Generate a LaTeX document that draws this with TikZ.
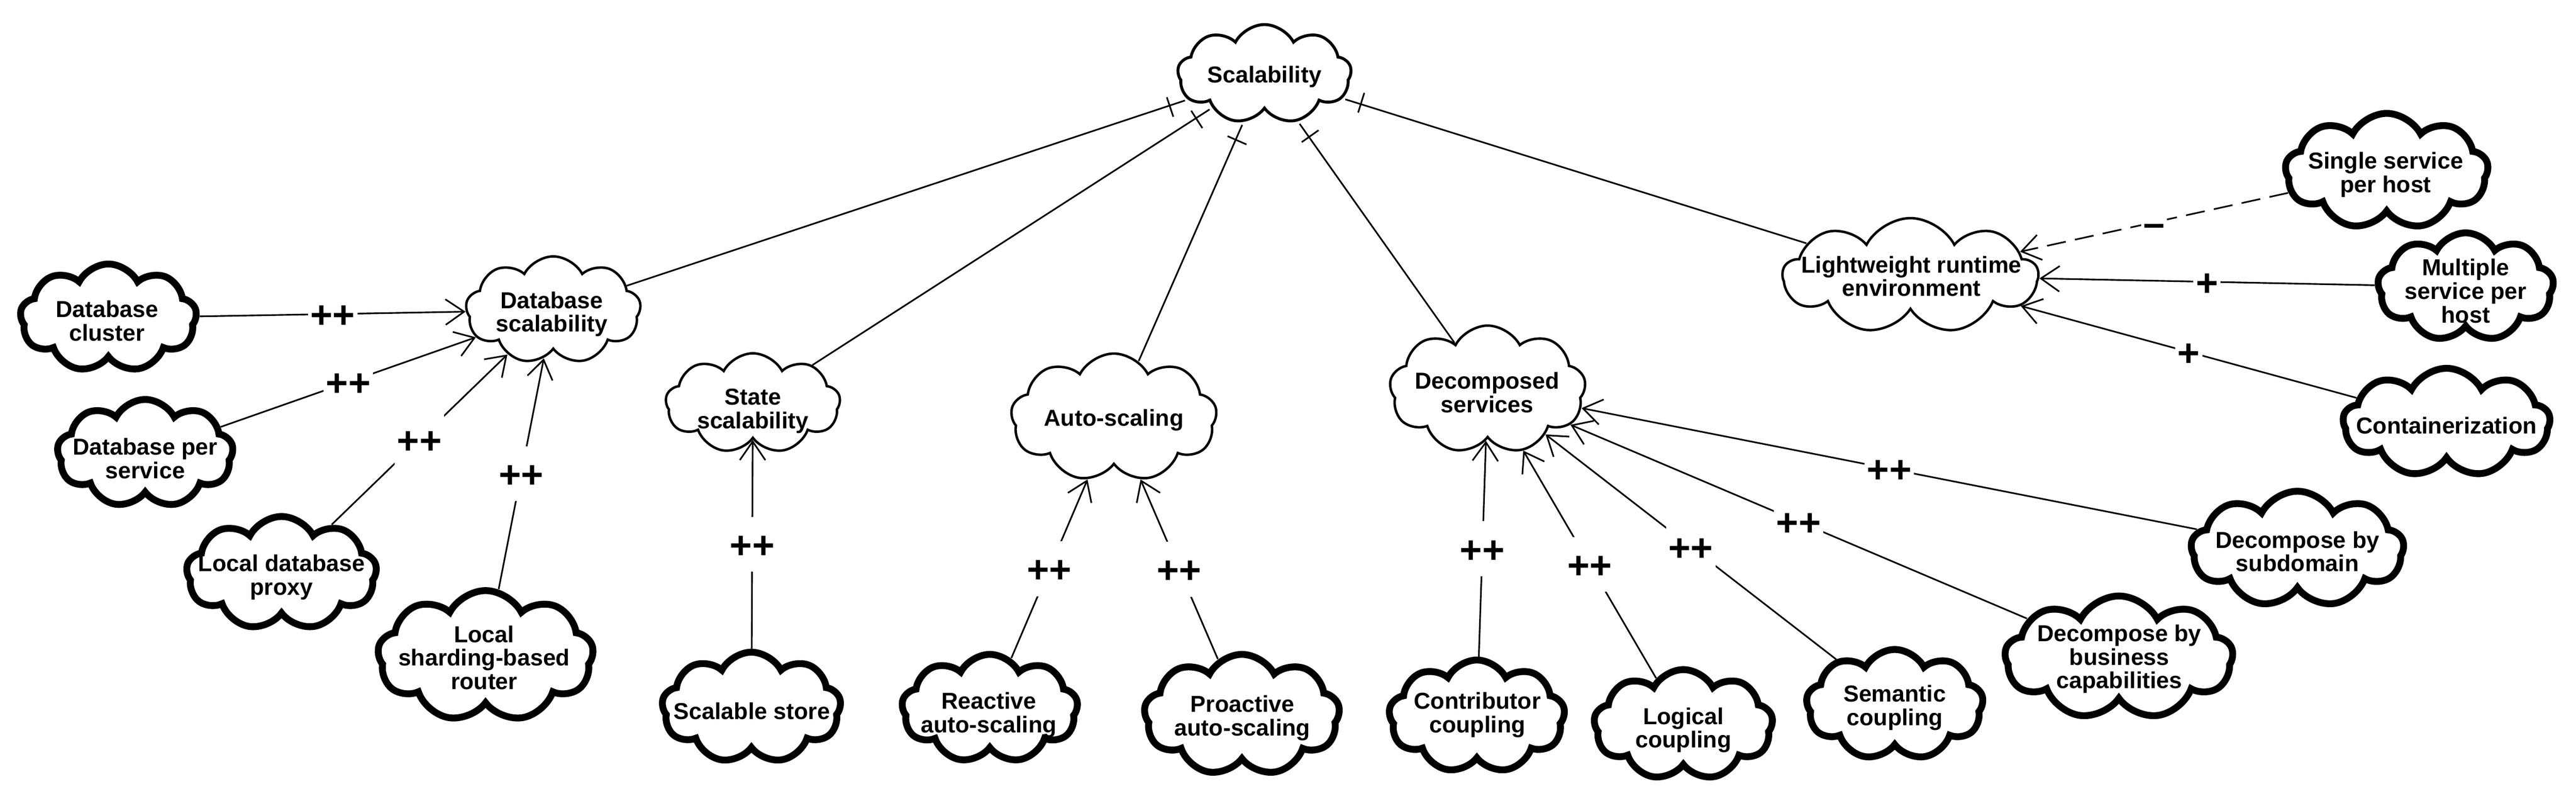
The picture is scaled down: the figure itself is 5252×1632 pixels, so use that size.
\documentclass[tikz,border=0pt]{standalone}
\usepackage{fontspec}
\setmainfont{Liberation Sans}
\usetikzlibrary{shapes.symbols,arrows.meta,decorations.markings}
\begin{document}
\begin{tikzpicture}[x=1pt,y=-1pt,
  cloudbase/.style={cloud, cloud puffs=9, cloud puff arc=125, cloud ignores aspect, draw, fill=white, inner sep=0pt},
  cloudthick/.style={cloudbase, line width=14pt},
  cloudthin/.style={cloudbase, line width=5pt},
  txt/.style={font=\fontsize{47}{48}\selectfont\bfseries, align=center, inner sep=0pt},
  conn/.style={line width=3.3pt},
  arr/.style={conn, -{Straight Barb[length=38pt,width=52pt]}},
  lbl/.style={fill=white, inner xsep=5pt, inner ysep=0pt, text height=85pt, text depth=27pt, font=\fontsize{78}{80}\selectfont\bfseries},
  tickscal/.style={shorten <=6pt, postaction={decorate}, decoration={markings, mark=at position 39pt with {\draw[line width=3.3pt] (0pt,-24pt) -- (0pt,24pt);}}}
]
\useasboundingbox (0,0) rectangle (5252,1632);

% main goal
\node[cloudthin, line width=6pt, minimum width=354pt, minimum height=202pt] (scal) at (2578,151) {};
\node[txt] at (2578,156) {Scalability};

% intermediate goals
\node[cloudthin, minimum width=357pt, minimum height=219pt] (dbs) at (1128,632) {};
\node[txt] at (1125,640) {Database\\scalability};
\node[cloudthin, minimum width=356pt, minimum height=204pt] (ss) at (1535,822) {};
\node[txt] at (1535,838) {State\\scalability};
\node[cloudthin, minimum width=420pt, minimum height=261pt] (as) at (2271,851) {};
\node[txt] at (2271,856) {Auto-scaling};
\node[cloudthin, minimum width=400pt, minimum height=261pt] (ds) at (3033,794) {};
\node[txt] at (3032,800) {Decomposed\\services};
\node[cloudthin, minimum width=520pt, minimum height=235pt] (lw) at (3895,562) {};
\node[txt] at (3897,563) {Lightweight runtime\\environment};

% leaf goals
\node[cloudthick, minimum width=360pt, minimum height=220pt] (dbc) at (221,648) {};
\node[txt] at (218,654) {Database\\cluster};
\node[cloudthick, minimum width=359pt, minimum height=220pt] (dbps) at (296,924) {};
\node[txt] at (296,934) {Database per\\service};
\node[cloudthick, minimum width=388pt, minimum height=231pt] (ldp) at (574,1168) {};
\node[txt] at (574,1176) {Local database\\proxy};
\node[cloudthick, minimum width=440pt, minimum height=267pt] (lsr) at (990,1337) {};
\node[txt] at (987,1340) {Local\\sharding-based\\router};
\node[cloudthick, minimum width=365pt, minimum height=226pt] (sst) at (1532,1442) {};
\node[txt] at (1533,1449) {Scalable store};
\node[cloudthick, minimum width=359pt, minimum height=221pt] (ras) at (2018,1444) {};
\node[txt] at (2016,1457) {Reactive\\auto-scaling};
\node[cloudthick, minimum width=399pt, minimum height=247pt] (pas) at (2532,1457) {};
\node[txt] at (2533,1463) {Proactive\\auto-scaling};
\node[cloudthick, minimum width=359pt, minimum height=230pt] (cc) at (3011,1460) {};
\node[txt] at (3012,1457) {Contributor\\coupling};
\node[cloudthick, minimum width=365pt, minimum height=225pt] (lc) at (3432,1477) {};
\node[txt] at (3432,1488) {Logical\\coupling};
\node[cloudthick, minimum width=361pt, minimum height=225pt] (sc) at (3863,1436) {};
\node[txt] at (3863,1442) {Semantic\\coupling};
\node[cloudthick, minimum width=465pt, minimum height=251pt] (dbbc) at (4320,1340) {};
\node[txt] at (4321,1343) {Decompose by\\business\\capabilities};
\node[cloudthick, minimum width=434pt, minimum height=236pt] (dbsd) at (4684,1119) {};
\node[txt] at (4684,1124) {Decompose by\\subdomain};
\node[cloudthick, minimum width=414pt, minimum height=236pt] (ssph) at (4866,349) {};
\node[txt] at (4864,356) {Single service\\per host};
\node[cloudthick, minimum width=359pt, minimum height=221pt] (msph) at (5027,585) {};
\node[txt] at (5027,593) {Multiple\\service per\\host};
\node[cloudthick, minimum width=422pt, minimum height=221pt] (cont) at (4988,861) {};
\node[txt] at (4988,867) {Containerization};

% refinement links
\draw[conn,tickscal] (scal) -- (dbs);
\draw[conn,tickscal] (scal) -- (ss);
\draw[conn,tickscal] (scal) -- (as);
\draw[conn,tickscal] (scal) -- (ds);
\draw[conn,tickscal] (scal) -- (lw);

% contributions
\draw[arr] (dbc) -- node[lbl]{++} (dbs);
\draw[arr] (dbps) -- node[lbl]{++} (dbs);
\draw[arr] (ldp) -- node[lbl]{++} (dbs);
\draw[arr] (lsr) -- node[lbl]{++} (dbs);
\draw[arr] (sst) -- node[lbl]{++} (ss);
\draw[arr] (ras) -- node[lbl]{++} (as);
\draw[arr] (pas) -- node[lbl]{++} (as);
\draw[arr] (cc) -- node[lbl]{++} (ds);
\draw[arr] (lc) -- node[lbl]{++} (ds);
\draw[arr] (sc) -- node[lbl]{++} (ds);
\draw[arr] (dbbc) -- node[lbl]{++} (ds);
\draw[arr] (dbsd) -- node[lbl]{++} (ds);
\draw[arr, dash pattern=on 39pt off 19pt] (ssph) -- node[lbl]{–} (lw);
\draw[arr] (msph) -- node[lbl]{+} (lw);
\draw[arr] (cont) -- node[lbl]{+} (lw);
\end{tikzpicture}
\end{document}
